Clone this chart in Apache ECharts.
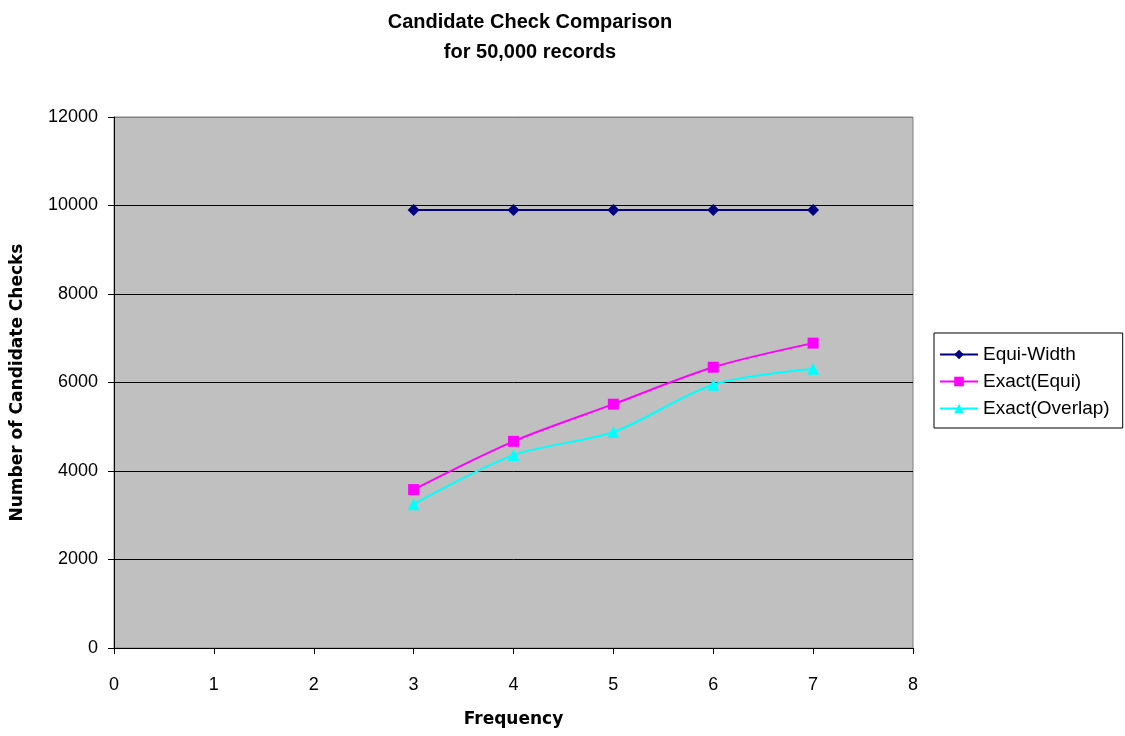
<!DOCTYPE html>
<html>
<head>
<meta charset="utf-8">
<script src="https://cdn.jsdelivr.net/npm/echarts@6/dist/echarts.min.js"></script>
<style>
  html, body { margin: 0; padding: 0; background: #fff; }
  #chart { width: 1125px; height: 736px; }
</style>
</head>
<body>
<div id="chart"></div>
<script>
// Frequency values on the x axis
const frequencies = [3, 4, 5, 6, 7];

// Number of candidate checks per method
const equiWidth = [9900, 9900, 9900, 9900, 9900];
const exactEqui = [3580, 4670, 5510, 6345, 6890];
const exactOverlap = [3250, 4360, 4880, 5950, 6310];

const seriesNames = ['Equi-Width', 'Exact(Equi)', 'Exact(Overlap)'];

const FONT = 'Liberation Sans, Arial, sans-serif';
const NAME_FONT = 'DejaVu Sans, sans-serif';

function pairs(values) {
  return frequencies.map((f, i) => [f, values[i]]);
}

const chart = echarts.init(document.getElementById('chart'));

chart.setOption({
  animation: false,
  backgroundColor: '#ffffff',
  textStyle: { fontFamily: FONT, color: '#000' },
  title: {
    text: 'Candidate Check Comparison\nfor 50,000 records',
    left: 525,
    textAlign: 'center',
    top: 2,
    textStyle: {
      fontFamily: FONT,
      fontSize: 20,
      fontWeight: 'bold',
      color: '#000',
      lineHeight: 30
    }
  },
  legend: {
    orient: 'vertical',
    left: 934,
    top: 333,
    backgroundColor: '#ffffff',
    borderColor: '#000',
    borderWidth: 1,
    borderRadius: 0,
    padding: [12, 13, 10, 5],
    itemWidth: 38,
    itemHeight: 12,
    itemGap: 8,
    textStyle: { fontFamily: FONT, fontSize: 19, color: '#000' },
    data: seriesNames
  },
  grid: {
    left: 114,
    right: 212,
    top: 117,
    bottom: 88,
    show: true,
    backgroundColor: '#c0c0c0',
    borderColor: '#808080',
    borderWidth: 1,
    containLabel: false
  },
  xAxis: {
    type: 'value',
    min: 0,
    max: 8,
    interval: 1,
    name: 'Frequency',
    nameLocation: 'middle',
    nameGap: 63,
    nameTextStyle: { fontFamily: NAME_FONT, fontSize: 17, fontWeight: 'bold', color: '#000' },
    axisLine: { show: true, onZero: false, lineStyle: { color: '#000', width: 1 } },
    axisTick: { show: true, length: 6, lineStyle: { color: '#000' } },
    axisLabel: { fontFamily: FONT, fontSize: 18, color: '#000', margin: 28 },
    splitLine: { show: false }
  },
  yAxis: {
    type: 'value',
    min: 0,
    max: 12000,
    interval: 2000,
    name: 'Number of Candidate Checks',
    nameLocation: 'middle',
    nameGap: 88,
    nameRotate: 90,
    nameTextStyle: { fontFamily: NAME_FONT, fontSize: 17, fontWeight: 'bold', color: '#000' },
    axisLine: { show: true, lineStyle: { color: '#000', width: 1 } },
    axisTick: { show: true, length: 6, lineStyle: { color: '#000' } },
    axisLabel: {
      fontFamily: FONT,
      fontSize: 18,
      color: '#000',
      margin: 16,
      formatter: (v) => String(v)
    },
    splitLine: {
      show: true,
      lineStyle: {
        color: ['#000', '#000', '#000', '#000', '#000', '#000', '#808080'],
        width: 1
      }
    }
  },
  series: [
    {
      name: seriesNames[0],
      type: 'line',
      data: pairs(equiWidth),
      symbol: 'diamond',
      symbolSize: 12,
      lineStyle: { color: '#000080', width: 2 },
      itemStyle: { color: '#000080' }
    },
    {
      name: seriesNames[1],
      type: 'line',
      data: pairs(exactEqui),
      smooth: 0.3,
      symbol: 'rect',
      symbolSize: 11,
      lineStyle: { color: '#ff00ff', width: 2 },
      itemStyle: { color: '#ff00ff' }
    },
    {
      name: seriesNames[2],
      type: 'line',
      data: pairs(exactOverlap),
      smooth: 0.3,
      symbol: 'triangle',
      symbolSize: 12,
      lineStyle: { color: '#00ffff', width: 2 },
      itemStyle: { color: '#00ffff' }
    }
  ]
});
</script>
</body>
</html>
